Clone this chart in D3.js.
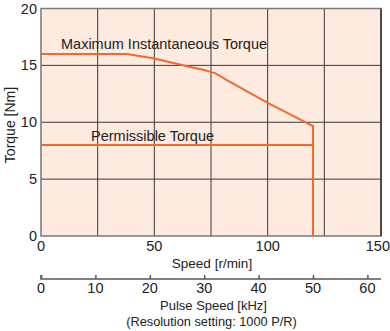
<!DOCTYPE html>
<html><head><meta charset="utf-8">
<script src="https://cdn.jsdelivr.net/npm/d3@7"></script>
<style>
body{margin:0;background:#fff;}
text{font-family:"Liberation Sans Narrow","Arial Narrow","Liberation Sans",sans-serif;fill:#222;}
</style></head>
<body><svg id="c" width="390" height="331"></svg>
<script>
const speedTicks=[0,50,100,150];
const gridSpeeds=[0,25,50,75,100,125,150];
const torqueTicks=[0,5,10,15,20];
const pulseTicks=[0,10,20,30,40,50,60];
const maxSpeed=[0,38,50,65,72,77,82,100,105,119.5,120,120];
const maxTorque=[16,16,15.6,14.9,14.6,14.3,13.7,11.7,11.2,9.7,9.7,0];
const permSpeed=[0,120,120];
const permTorque=[8,8,0];

const svg=d3.select("#c");
const L=41,R=381,T=8.5,B=236;
const x=d3.scaleLinear().domain([0,150]).range([L,R]);
const y=d3.scaleLinear().domain([0,20]).range([B,T]);
const xp=d3.scaleLinear().domain([0,62.5]).range([L,R]);
const orange="#f26a2e";

svg.append("rect").attr("x",L).attr("y",T).attr("width",R-L).attr("height",B-T).attr("fill","#fdebdf");
svg.selectAll(".vg").data(gridSpeeds.slice(1,-1)).enter().append("line")
 .attr("x1",d=>x(d)).attr("x2",d=>x(d)).attr("y1",T).attr("y2",B).attr("stroke","#3a3a3a").attr("stroke-width",1);
svg.selectAll(".hg").data(torqueTicks.slice(1,-1)).enter().append("line")
 .attr("x1",L).attr("x2",R).attr("y1",d=>y(d)).attr("y2",d=>y(d)).attr("stroke","#3a3a3a").attr("stroke-width",1);
svg.append("rect").attr("x",L).attr("y",T).attr("width",R-L).attr("height",B-T).attr("fill","none").attr("stroke","#777").attr("stroke-width",1.5);
svg.append("line").attr("x1",R).attr("x2",R).attr("y1",T).attr("y2",B).attr("stroke","#333").attr("stroke-width",1.5);

const line=d3.line().x(d=>x(d[0])).y(d=>y(d[1]));
svg.append("path").datum(maxSpeed.map((s,i)=>[s,maxTorque[i]])).attr("d",line).attr("fill","none").attr("stroke",orange).attr("stroke-width",2).attr("stroke-linejoin","round");
svg.append("path").datum(permSpeed.map((s,i)=>[s,permTorque[i]])).attr("d",line).attr("fill","none").attr("stroke",orange).attr("stroke-width",2);

svg.selectAll(".yt").data(torqueTicks).enter().append("text")
 .attr("x",37).attr("y",d=>y(d)+5).attr("text-anchor","end").attr("font-size",14.5).text(d=>d);
svg.selectAll(".xt").data(speedTicks).enter().append("text")
 .attr("x",d=>d===150?390:x(d)).attr("y",251).attr("text-anchor",d=>d===150?"end":"middle").attr("font-size",14.5).text(d=>d);
svg.append("text").attr("x",212).attr("y",268).attr("text-anchor","middle").attr("font-size",13.5).text("Speed [r/min]");
svg.append("text").attr("transform","translate(15,125) rotate(-90)").attr("text-anchor","middle").attr("font-size",14).text("Torque [Nm]");

const ax=svg.append("g").attr("transform","translate(0,279)").call(d3.axisTop(xp).tickValues(pulseTicks).tickSize(4).tickFormat(""));
ax.select(".domain").attr("stroke","#555").attr("stroke-width",1.5).attr("d",`M${L},-4V0H${R}`);
ax.selectAll(".tick line").attr("stroke","#555").attr("stroke-width",1.5);
svg.selectAll(".pt").data(pulseTicks).enter().append("text")
 .attr("x",d=>xp(d)).attr("y",293).attr("text-anchor","middle").attr("font-size",14.5).text(d=>d);
svg.append("text").attr("x",213.5).attr("y",310).attr("text-anchor","middle").attr("font-size",13).text("Pulse Speed [kHz]");
svg.append("text").attr("x",211.5).attr("y",326).attr("text-anchor","middle").attr("font-size",12.8).text("(Resolution setting: 1000 P/R)");

svg.append("text").attr("x",61).attr("y",49).attr("font-size",14.5).text("Maximum Instantaneous Torque");
svg.append("text").attr("x",91).attr("y",141).attr("font-size",14.5).text("Permissible Torque");
</script></body></html>
